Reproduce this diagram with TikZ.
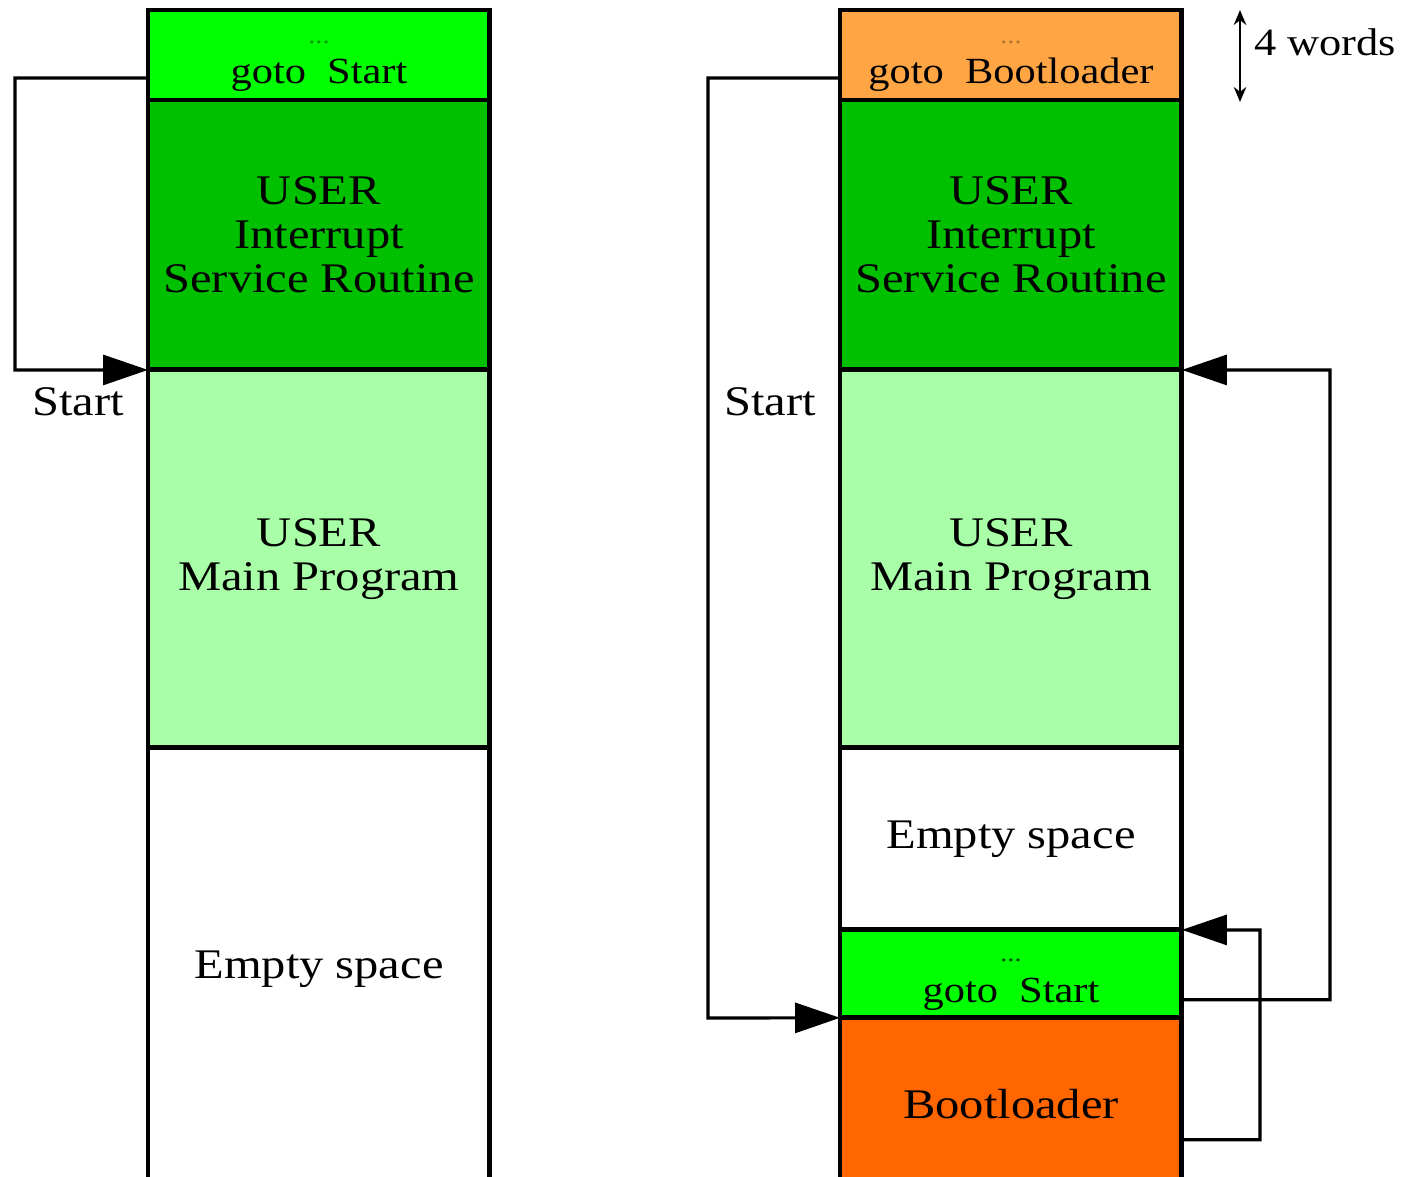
\documentclass[tikz,border=0pt]{standalone}
\usepackage{fontspec}
\setmainfont[FakeStretch=1.15]{Liberation Serif}
\usetikzlibrary{arrows.meta,positioning,calc}
\definecolor{vecgreen}{HTML}{00FF00}
\definecolor{isrgreen}{HTML}{00C000}
\definecolor{maingreen}{HTML}{A8FFA8}
\definecolor{vecorange}{HTML}{FFA544}
\definecolor{bootorange}{HTML}{FF6600}
\tikzset{
  block/.style={draw, line width=2.8pt, inner sep=0pt, outer sep=0pt,
    minimum width=6.84cm, align=center, font=\fontsize{24}{25}\selectfont},
  jump/.style={line width=1.8pt, -{Triangle[length=0.9cm,width=0.6cm]}},
  lbl/.style={font=\fontsize{24}{25}\selectfont}
}
\newcommand{\gotoline}[2]{\rule{0pt}{14pt}{\fontsize{14}{14}\selectfont\color{#1}...}\\[-2pt]{\fontsize{21}{22}\selectfont goto\ \ #2}}

\begin{document}
\begin{tikzpicture}[x=0.02cm,y=-0.02cm]
\useasboundingbox (0,0) rectangle (1409,1176);

% without bootloader
\node[block, fill=vecgreen, minimum height=1.8cm, anchor=north west] (lgoto) at (148,10) {\gotoline{green!60!black}{Start}};
\node[block, fill=isrgreen, minimum height=5.4cm, below=0pt of lgoto] (lisr) {USER\\Interrupt\\Service Routine};
\node[block, fill=maingreen, minimum height=7.56cm, below=0pt of lisr] (lmain) {USER\\Main Program};
\node[block, minimum height=8.84cm, below=0pt of lmain] (lempty) {Empty space};

\coordinate (lbend) at (15,370);
\draw[jump] ($(lgoto.south west)+(0,-22)$) -| (lbend) -- (lmain.north west);
\node[lbl] (lstart) at (78,402) {Start};

% with bootloader
\node[block, fill=vecorange, minimum height=1.8cm, anchor=north west] (rgoto) at (840,10) {\gotoline{vecorange!70!black}{Bootloader}};
\node[block, fill=isrgreen, minimum height=5.4cm, below=0pt of rgoto] (risr) {USER\\Interrupt\\Service Routine};
\node[block, fill=maingreen, minimum height=7.56cm, below=0pt of risr] (rmain) {USER\\Main Program};
\node[block, minimum height=3.64cm, below=0pt of rmain] (rempty) {Empty space};
\node[block, fill=vecgreen, minimum height=1.76cm, below=0pt of rempty] (rgo2) {\gotoline{green!30!black}{Start}};
\node[block, fill=bootorange, minimum height=3.44cm, below=0pt of rgo2] (rboot) {Bootloader};

\coordinate (rbend) at (708,1018);
\draw[jump] ($(rgoto.south west)+(0,-22)$) -| (rbend) -- (rboot.north west);
\node[lbl] (rstart) at (770,402) {Start};

\coordinate (rtop) at (1330,370);
\draw[jump] ($(rgo2.south east)+(0,-18)$) -| (rtop) -- (rmain.north east);
\coordinate (rlow) at (1260,930);
\draw[jump] ($(rboot.north east)+(0,122)$) -| (rlow) -- (rgo2.north east);

% vector size
\coordinate (wtop) at (1240,10);
\coordinate (wbot) at (1240,102);
\draw[line width=1.1pt, {Stealth[length=0.3cm,width=0.25cm]}-{Stealth[length=0.3cm,width=0.25cm]}] (wtop) -- (wbot);
\node[lbl, anchor=west, font=\fontsize{22}{24}\selectfont] (words) at (1248,42) {4 words};
\end{tikzpicture}
\end{document}
